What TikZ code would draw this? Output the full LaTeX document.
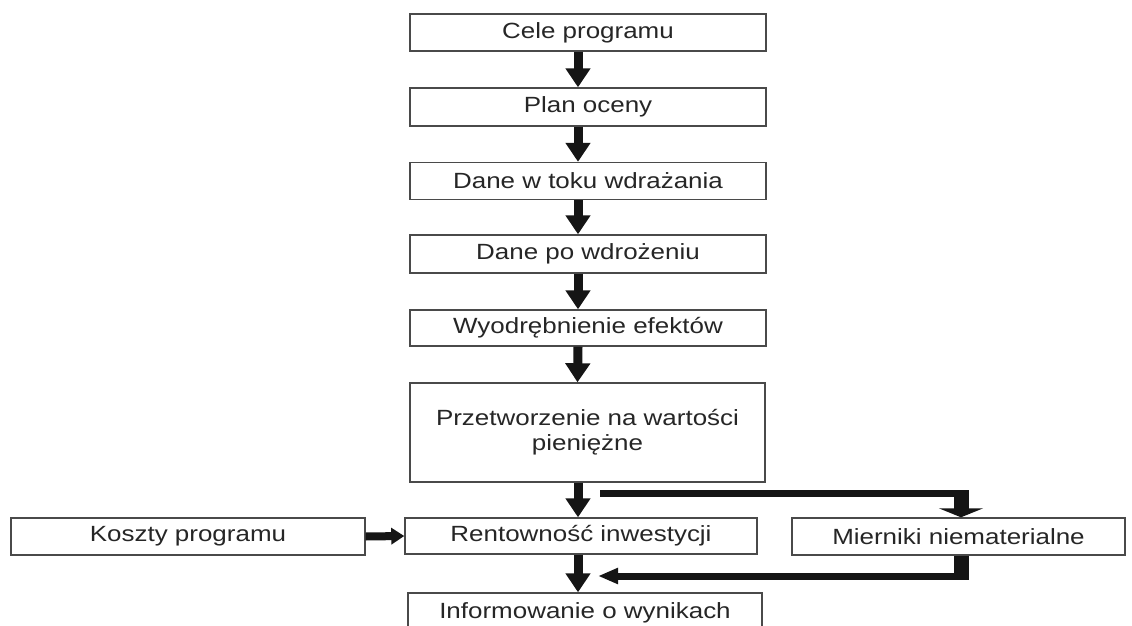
\documentclass[tikz,border=0pt]{standalone}
\usepackage{fontspec}
\setmainfont{Liberation Sans}[FakeStretch=1.18]
\usetikzlibrary{arrows.meta}
\definecolor{txt}{HTML}{262626}
\definecolor{frame}{HTML}{4A4A4A}
\definecolor{arr}{HTML}{151515}
\begin{document}
\begin{tikzpicture}[x=1pt,y=-1pt,
  box/.style={draw=frame,line width=1.4pt,fill=white,inner sep=0pt,align=center,
    text=txt,font=\fontsize{22}{25}\selectfont},
  down/.style={draw=arr,line width=9pt,
    -{Triangle[width=24pt,length=19pt]}},
  side/.style={draw=arr,line width=8pt,
    -{Triangle[width=16pt,length=13pt]}},
  thin/.style={draw=arr,line width=6.5pt},
  thick/.style={draw=arr,line width=15pt},
  branch/.style={draw=arr,line width=15pt,
    -{Triangle[width=44pt,length=9pt]}},
  back/.style={draw=arr,line width=7pt,
    -{Triangle[width=15pt,length=20pt]}},
]
\useasboundingbox[fill=white] (0,0) rectangle (1132,626);
\node[box,minimum width=356pt,minimum height=37pt] (cele) at (588,32.5) {Cele programu};
\node[box,minimum width=356pt,minimum height=38pt] (plan) at (588,107) {Plan oceny};
\node[box,minimum width=356pt,minimum height=37pt] (dane1) at (588,181) {Dane w toku wdrażania};
\node[box,minimum width=356pt,minimum height=38pt] (dane2) at (588,254) {Dane po wdrożeniu};
\node[box,minimum width=356pt,minimum height=36pt] (wyod) at (588,328) {Wyodrębnienie efektów};
\node[box,minimum width=355pt,minimum height=99pt] (przet) at (587.5,432.5) {Przetworzenie na wartości\\pieniężne};
\node[box,minimum width=352pt,minimum height=36pt] (rent) at (581,536) {Rentowność inwestycji};
\node[box,minimum width=333pt,minimum height=37pt] (mier) at (958.5,536.5) {Mierniki niematerialne};
\node[box,minimum width=354pt,minimum height=37pt] (koszty) at (188,536.5) {Koszty programu};
\node[box,minimum width=354pt,minimum height=42pt] (info) at (585,614) {\raisebox{7pt}{Informowanie o wynikach}};

\draw[down] ([xshift=-10pt]cele.south) -- ([xshift=-10pt]plan.north);
\draw[down] ([xshift=-10pt]plan.south) -- ([xshift=-10pt]dane1.north);
\draw[down] ([xshift=-10pt]dane1.south) -- ([xshift=-10pt]dane2.north);
\draw[down] ([xshift=-10pt]dane2.south) -- ([xshift=-10pt]wyod.north);
\draw[down] ([xshift=-10pt]wyod.south) -- ([xshift=-10pt]przet.north);
\draw[down] ([xshift=-9.5pt]przet.south) -- ([xshift=-3pt]rent.north);
\draw[down] ([xshift=-3pt]rent.south) -- ([xshift=-7pt]info.north);
\draw[side] (koszty.east) -- (rent.west);

\coordinate (b1) at (600,493.5);
\coordinate (b2) at (961,493.5);
\coordinate (r2) at (961,576);
\coordinate (r1) at (598,576);
\draw[thin] (b1) -- ([xshift=7.5pt]b2);
\draw[branch] ([yshift=-3pt]b2) -- ([xshift=2.5pt]mier.north);
\draw[thick] ([xshift=2.5pt]mier.south) -- ([yshift=3.5pt]r2);
\draw[back] ([xshift=7.5pt]r2) -- (r1);
\end{tikzpicture}
\end{document}
